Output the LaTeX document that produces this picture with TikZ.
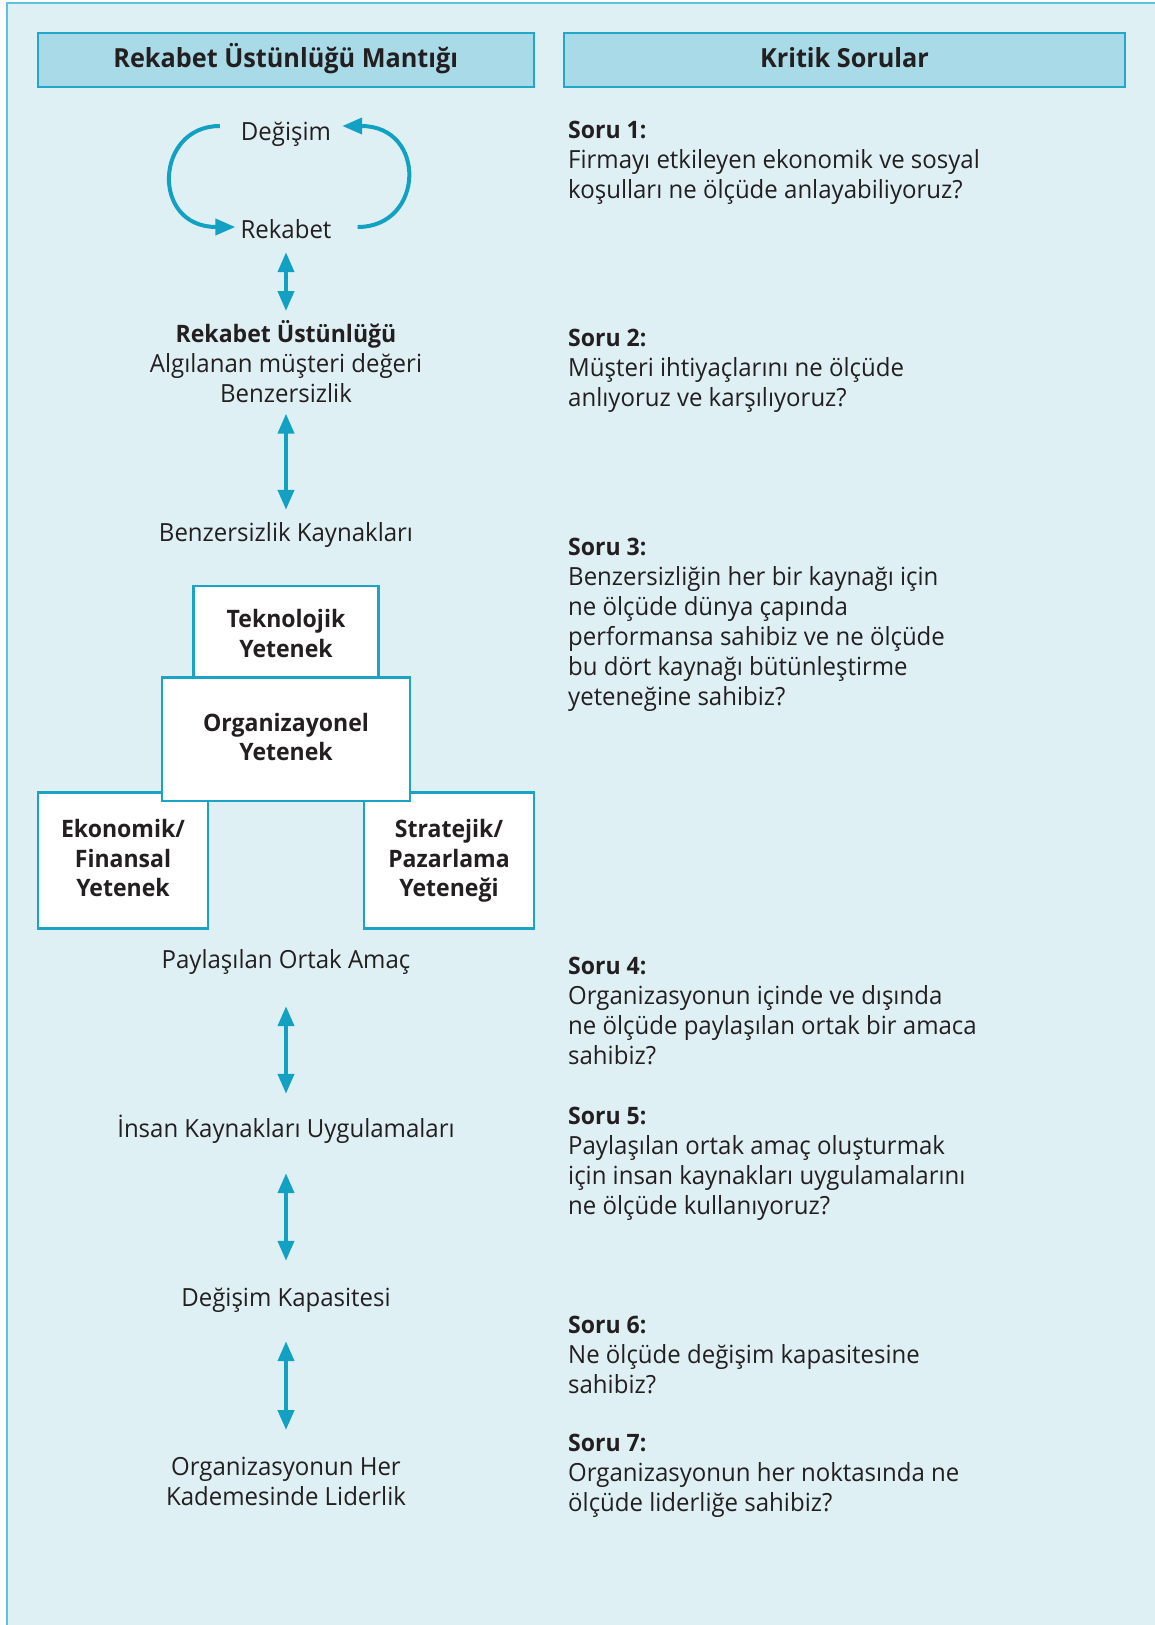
\documentclass[tikz,border=0pt]{standalone}
\usepackage{fontspec}
\setmainfont{Open Sans}[FakeStretch=0.96]
\usetikzlibrary{arrows.meta}

\definecolor{panelbg}{HTML}{DFF0F5}
\definecolor{panelrule}{HTML}{5EC3DA}
\definecolor{headfill}{HTML}{A9DAE8}
\definecolor{headrule}{HTML}{22A6C9}
\definecolor{boxrule}{HTML}{1BA3C6}
\definecolor{flow}{HTML}{12A0C3}
\definecolor{ink}{HTML}{231F20}

% strut that fixes the height of the first line in multi-line blocks
\newcommand\firstline{\rule{0pt}{1em}}
% bold run-in heading inside regular text
\newcommand\boldlead[1]{{\bfseries\fontsize{24}{30}\selectfont #1}}

\begin{document}
\begin{tikzpicture}[x=1pt,y=-1pt,
  every node/.style={text=ink, inner sep=0pt, font=\fontsize{25}{30}\selectfont},
  line/.style={text height=17.5pt, text depth=0pt, anchor=center},
  block/.style={align=left, anchor=north west},
  cblock/.style={align=center, anchor=north},
  header/.style={draw=headrule, fill=headfill, line width=2pt,
    text height=18.8pt, text depth=4.8pt,
    font=\bfseries\fontsize{26.3}{30}\selectfont},
  capbox/.style={draw=boxrule, fill=white, line width=2.5pt},
  captext/.style={align=center, anchor=north,
    font=\bfseries\fontsize{24}{29.5}\selectfont},
  link/.style={draw=flow, line width=4pt, {Triangle[width=16pt,length=20pt]}-{Triangle[width=16pt,length=20pt]}},
  cycle arrow/.style={draw=flow, line width=4pt, -{Triangle[width=16pt,length=20pt]}}
]
\useasboundingbox (0,0) rectangle (1155,1625);

% panel background and its rule
\fill[white] (0,0) rectangle (1155,1625);
\fill[panelbg] (7,3) rectangle (1155,1625);
\draw[panelrule, line width=2pt] (7,1625) -- (7,3) -- (1155,3);

% column headers
\node[header, minimum width=496.5pt, minimum height=54.6pt] (hleft) at (285.75,60) {Rekabet Üstünlüğü Mantığı};
\node[header, minimum width=561pt, minimum height=54.6pt] (hright) at (844.5,60) {Kritik Sorular};

% left column: the logic chain
\node[line] (chg) at (286,132) {Değişim};
\node[line] (rek) at (286,230) {Rekabet};
\draw[cycle arrow] ([xshift=-21pt,yshift=6pt]chg.west) .. controls +(-65,0) and +(-85,0) .. ([xshift=-5pt,yshift=3pt]rek.west);
\draw[cycle arrow] ([xshift=26pt,yshift=3pt]rek.east) .. controls +(67,0) and +(85,0) .. ([xshift=11pt,yshift=6pt]chg.east);

\node[cblock] (adv) at (286,317.75) {\firstline\boldlead{Rekabet Üstünlüğü}\\Algılanan müşteri değeri\\Benzersizlik};
\node[line] (src) at (286,533) {Benzersizlik Kaynakları};

% capability boxes
\node[capbox, minimum width=185pt, minimum height=108pt] (tech) at (286,640) {};
\node[capbox, minimum width=170pt, minimum height=135.6pt] (eco) at (123,860.5) {};
\node[capbox, minimum width=170pt, minimum height=135.6pt] (strat) at (449,860.5) {};
\node[capbox, minimum width=248pt, minimum height=123.7pt] (org) at (286,739.2) {};
\node[captext] (techtxt) at (286,603.7) {\firstline Teknolojik\\Yetenek};
\node[captext] (orgtxt) at (286,707.1) {\firstline Organizayonel\\Yetenek};
\node[captext] (ecotxt) at (123,813.7) {\firstline Ekonomik/\\Finansal\\Yetenek};
\node[captext] (strattxt) at (449,813.7) {\firstline Stratejik/\\Pazarlama\\Yeteneği};

\node[line] (goal) at (286,960) {Paylaşılan Ortak Amaç};
\node[line] (hr) at (286,1129) {İnsan Kaynakları Uygulamaları};
\node[line] (cap) at (286,1298) {Değişim Kapasitesi};
\node[cblock] (lead) at (286,1450.75) {\firstline Organizasyonun Her\\Kademesinde Liderlik};

% links between the stages
\draw[link, shorten <=13.25pt, shorten >=6.75pt] (rek.south) -- (adv.north);
\draw[link, shorten <=10.25pt, shorten >=14.25pt] (adv.south) -- (src.north);
\draw[link, shorten <=37.25pt, shorten >=26.25pt] (goal.south) -- (hr.north);
\draw[link, shorten <=35.25pt, shorten >=28.25pt] (hr.south) -- (cap.north);
\draw[link, shorten <=34.25pt, shorten >=20.75pt] (cap.south) -- (lead.north);

% right column: critical questions
\node[block] (q1) at (568,113.75) {\firstline\boldlead{Soru 1:}\\Firmayı etkileyen ekonomik ve sosyal\\koşulları ne ölçüde anlayabiliyoruz?};
\node[block] (q2) at (568,321.75) {\firstline\boldlead{Soru 2:}\\Müşteri ihtiyaçlarını ne ölçüde\\anlıyoruz ve karşılıyoruz?};
\node[block] (q3) at (568,530.75) {\firstline\boldlead{Soru 3:}\\Benzersizliğin her bir kaynağı için\\ne ölçüde dünya çapında\\performansa sahibiz ve ne ölçüde\\bu dört kaynağı bütünleştirme\\yeteneğine sahibiz?};
\node[block] (q4) at (568,949.75) {\firstline\boldlead{Soru 4:}\\Organizasyonun içinde ve dışında\\ne ölçüde paylaşılan ortak bir amaca\\sahibiz?};
\node[block] (q5) at (568,1099.75) {\firstline\boldlead{Soru 5:}\\Paylaşılan ortak amaç oluşturmak\\için insan kaynakları uygulamalarını\\ne ölçüde kullanıyoruz?};
\node[block] (q6) at (568,1308.75) {\firstline\boldlead{Soru 6:}\\Ne ölçüde değişim kapasitesine\\sahibiz?};
\node[block] (q7) at (568,1426.75) {\firstline\boldlead{Soru 7:}\\Organizasyonun her noktasında ne\\ölçüde liderliğe sahibiz?};
\end{tikzpicture}
\end{document}
